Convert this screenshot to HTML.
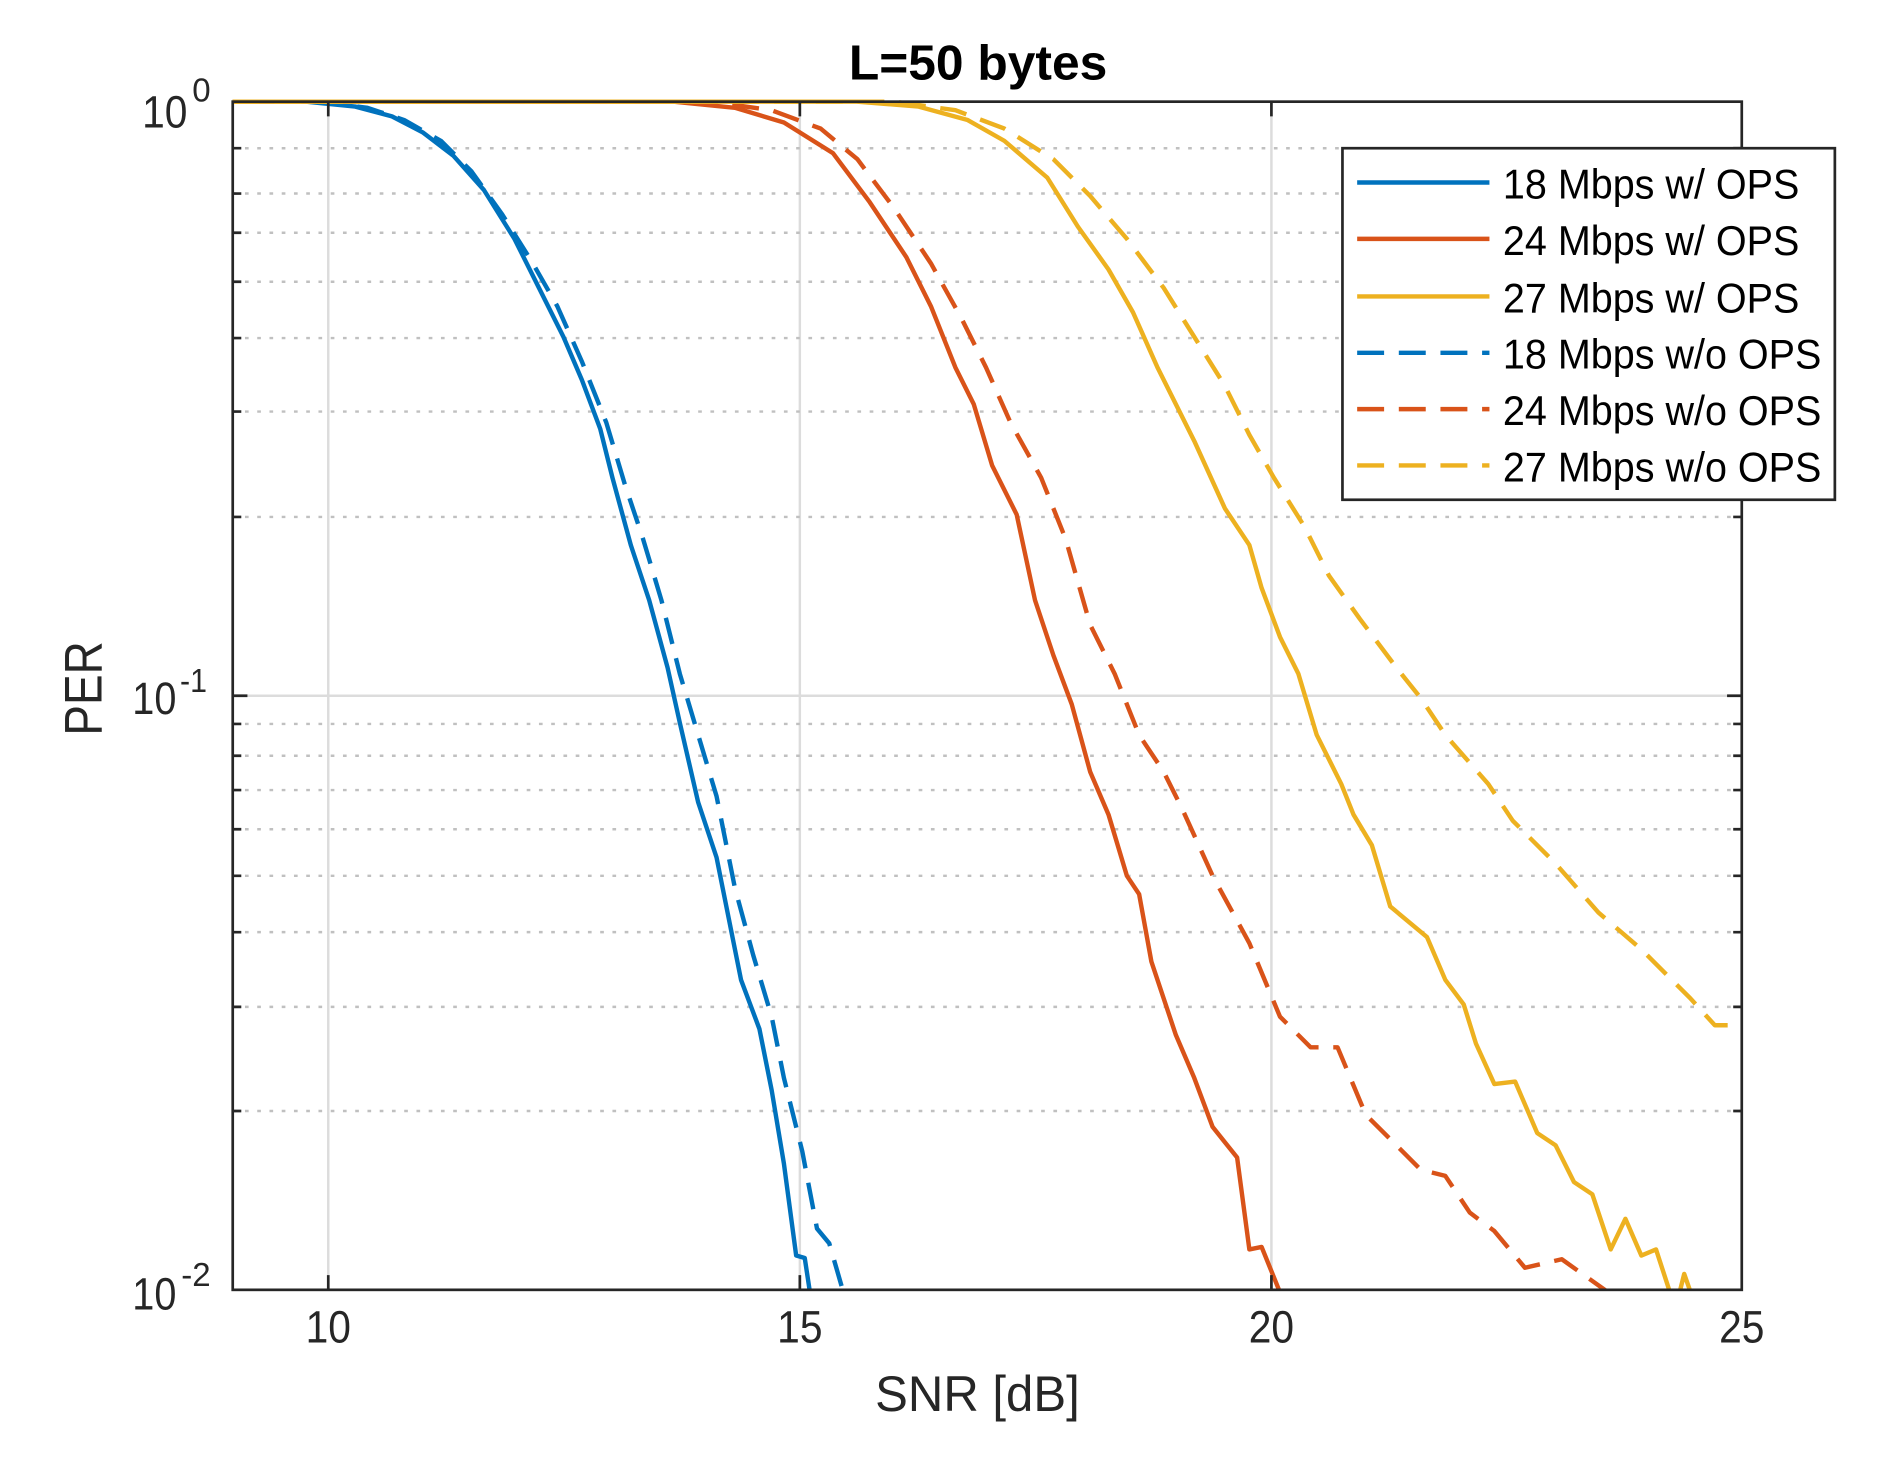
<!DOCTYPE html>
<html><head><meta charset="utf-8"><style>html,body{margin:0;padding:0;background:#fff}svg{display:block}</style></head>
<body>
<svg width="1901" height="1465" viewBox="0 0 1552 1196" preserveAspectRatio="none" xmlns="http://www.w3.org/2000/svg" font-family="Liberation Sans, sans-serif">
<defs><clipPath id="c"><rect x="190" y="80" width="1233" height="973"/></clipPath></defs>
<rect width="1552" height="1196" fill="#fff"/>
<g stroke="#dcdcdc" stroke-width="2">
<line x1="268" y1="83" x2="268" y2="1053"/><line x1="653" y1="83" x2="653" y2="1053"/><line x1="1038" y1="83" x2="1038" y2="1053"/>
<line x1="190" y1="568" x2="1422" y2="568"/>
</g>
<g stroke="#c0c0c0" stroke-width="2" stroke-dasharray="3,7">
<line x1="190" y1="121" x2="1422" y2="121"/><line x1="190" y1="158" x2="1422" y2="158"/><line x1="190" y1="190" x2="1422" y2="190"/><line x1="190" y1="230" x2="1422" y2="230"/><line x1="190" y1="276" x2="1422" y2="276"/><line x1="190" y1="336" x2="1422" y2="336"/><line x1="190" y1="422" x2="1422" y2="422"/>
<line x1="190" y1="591" x2="1422" y2="591"/><line x1="190" y1="617" x2="1422" y2="617"/><line x1="190" y1="645" x2="1422" y2="645"/><line x1="190" y1="677" x2="1422" y2="677"/><line x1="190" y1="715" x2="1422" y2="715"/><line x1="190" y1="761" x2="1422" y2="761"/><line x1="190" y1="822" x2="1422" y2="822"/><line x1="190" y1="907" x2="1422" y2="907"/>
</g>
<g fill="none" stroke-width="3.6" stroke-linejoin="round" clip-path="url(#c)">
<polyline stroke="#0072bd" points="190,83 250,83 290,87 320,95 345,108 370,127 395,155 420,195 440,235 460,275 475,310 490,350 500,390 515,445 530,490 545,545 555,590 570,655 585,700 595,750 605,800 620,840 630,890 640,950 650,1025 657,1027 662,1060"/>
<polyline stroke="#0072bd" stroke-dasharray="22,12" points="190,83 260,83 300,88 330,98 360,115 385,140 410,175 435,215 455,250 475,295 495,345 510,395 525,440 540,490 555,550 570,600 585,650 600,725 615,780 630,830 640,880 655,940 667,1003 677,1015 690,1060"/>
<polyline stroke="#d95319" points="190,83 550,83 600,88 640,100 680,125 710,165 740,210 760,250 780,300 795,330 810,380 830,420 845,490 860,535 875,575 890,630 905,665 920,715 930,730 940,785 960,845 975,880 990,920 1010,945 1020,1020 1030,1018 1047,1060"/>
<polyline stroke="#d95319" stroke-dasharray="22,12" points="190,83 580,83 630,90 670,105 700,130 730,170 760,215 785,260 805,300 825,345 850,390 870,440 890,510 910,550 930,600 950,630 965,660 990,715 1020,770 1045,830 1070,855 1092,855 1115,910 1140,935 1160,955 1180,960 1200,990 1220,1005 1245,1035 1275,1028 1320,1060"/>
<polyline stroke="#edb120" points="190,83 700,83 750,87 790,98 820,115 855,145 880,185 905,220 925,255 945,300 960,330 975,360 1000,415 1020,445 1030,480 1045,520 1060,550 1075,600 1095,640 1105,665 1120,690 1135,740 1165,765 1180,800 1195,820 1205,852 1220,885 1237,883 1255,925 1270,935 1285,965 1300,975 1315,1020 1327,995 1340,1025 1352,1020 1365,1060"/>
<polyline stroke="#edb120" points="1370,1060 1375,1040 1382,1060"/>
<polyline stroke="#edb120" stroke-dasharray="22,12" points="190,83 730,83 780,90 820,105 860,130 890,160 920,195 950,235 975,275 1000,315 1020,355 1040,390 1065,430 1085,470 1110,505 1140,545 1160,570 1180,600 1215,640 1235,670 1270,705 1305,745 1340,775 1380,815 1400,837 1425,837"/>
</g>
<g stroke="#262626" stroke-width="2.2" fill="none">
<rect x="190" y="83" width="1232" height="970"/>
<path d="M268,1053v-12M653,1053v-12M1038,1053v-12M268,83v12M653,83v12M1038,83v12M190,568h12M1422,568h-12"/>
<path d="M190,121h7M190,158h7M190,190h7M190,230h7M190,276h7M190,336h7M190,422h7M190,591h7M190,617h7M190,645h7M190,677h7M190,715h7M190,761h7M190,822h7M190,907h7"/>
<path d="M1422,121h-7M1422,158h-7M1422,190h-7M1422,230h-7M1422,276h-7M1422,336h-7M1422,422h-7M1422,591h-7M1422,617h-7M1422,645h-7M1422,677h-7M1422,715h-7M1422,761h-7M1422,822h-7M1422,907h-7"/>
</g>
<g fill="#262626" font-size="37" text-anchor="middle">
<text x="268" y="1096" textLength="37" lengthAdjust="spacingAndGlyphs">10</text><text x="653" y="1096" textLength="37" lengthAdjust="spacingAndGlyphs">15</text><text x="1038" y="1096" textLength="37" lengthAdjust="spacingAndGlyphs">20</text><text x="1422" y="1096" textLength="37" lengthAdjust="spacingAndGlyphs">25</text>
<text x="798" y="1152" font-size="41" textLength="167" lengthAdjust="spacingAndGlyphs">SNR [dB]</text>
<text x="83" y="562" font-size="43" textLength="77" lengthAdjust="spacingAndGlyphs" transform="rotate(-90 83 562)">PER</text>
</g>
<g fill="#262626" font-size="37">
<text x="116" y="104" textLength="37" lengthAdjust="spacingAndGlyphs">10</text><text x="157" y="83" font-size="27">0</text>
<text x="108" y="583" textLength="36" lengthAdjust="spacingAndGlyphs">10</text><text x="147" y="565" font-size="27" textLength="22" lengthAdjust="spacingAndGlyphs">-1</text>
<text x="108" y="1069" textLength="36" lengthAdjust="spacingAndGlyphs">10</text><text x="148" y="1050" font-size="27" textLength="24" lengthAdjust="spacingAndGlyphs">-2</text>
</g>
<text x="693" y="65" font-size="40" font-weight="bold" fill="#000" textLength="211" lengthAdjust="spacingAndGlyphs">L=50 bytes</text>
<rect x="1096" y="121" width="402" height="287" fill="#fff" stroke="#262626" stroke-width="2.2"/>
<g stroke-width="3.6">
<line x1="1108" y1="149" x2="1216" y2="149" stroke="#0072bd"/>
<line x1="1108" y1="195" x2="1216" y2="195" stroke="#d95319"/>
<line x1="1108" y1="242" x2="1216" y2="242" stroke="#edb120"/>
<line x1="1108" y1="288" x2="1216" y2="288" stroke="#0072bd" stroke-dasharray="22,12"/>
<line x1="1108" y1="334" x2="1216" y2="334" stroke="#d95319" stroke-dasharray="22,12"/>
<line x1="1108" y1="380" x2="1216" y2="380" stroke="#edb120" stroke-dasharray="22,12"/>
</g>
<g fill="#000" font-size="34">
<text x="1227" y="162" textLength="242" lengthAdjust="spacingAndGlyphs">18 Mbps w/ OPS</text>
<text x="1227" y="208" textLength="242" lengthAdjust="spacingAndGlyphs">24 Mbps w/ OPS</text>
<text x="1227" y="255" textLength="242" lengthAdjust="spacingAndGlyphs">27 Mbps w/ OPS</text>
<text x="1227" y="301" textLength="260" lengthAdjust="spacingAndGlyphs">18 Mbps w/o OPS</text>
<text x="1227" y="347" textLength="260" lengthAdjust="spacingAndGlyphs">24 Mbps w/o OPS</text>
<text x="1227" y="393" textLength="260" lengthAdjust="spacingAndGlyphs">27 Mbps w/o OPS</text>
</g>
</svg>
</body></html>
